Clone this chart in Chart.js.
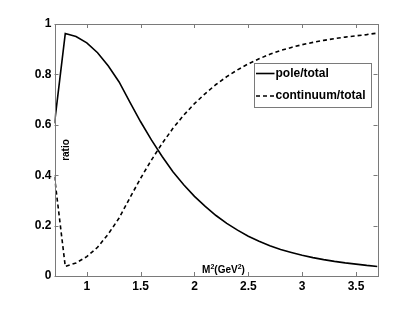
<!DOCTYPE html>
<html>
<head>
<meta charset="utf-8">
<script src="https://cdn.jsdelivr.net/npm/chart.js@4/dist/chart.umd.min.js"></script>
<style>
html,body{margin:0;padding:0;background:#fff;}
#wrap{width:417px;height:316px;position:relative;}
</style>
</head>
<body>
<div id="wrap"><canvas id="c" width="417" height="316"></canvas></div>
<script>
// ---- data ----
const massSq = [0.7,0.8,0.9,1.0,1.1,1.2,1.3,1.4,1.5,1.6,1.7,1.8,1.9,2.0,2.1,2.2,2.3,2.4,2.5,2.6,2.7,2.8,2.9,3.0,3.1,3.2,3.3,3.4,3.5,3.6,3.7];
const poleRatio = [0.606,0.962,0.950,0.925,0.886,0.833,0.770,0.690,0.612,0.540,0.474,0.414,0.362,0.316,0.276,0.240,0.209,0.182,0.158,0.138,0.120,0.105,0.093,0.082,0.073,0.065,0.058,0.052,0.047,0.042,0.038];
const continuumRatio = [0.394,0.038,0.052,0.077,0.114,0.167,0.230,0.310,0.388,0.460,0.526,0.586,0.638,0.684,0.724,0.760,0.791,0.818,0.842,0.862,0.880,0.895,0.907,0.918,0.927,0.935,0.942,0.948,0.953,0.958,0.964];
const seriesLabels = ['pole/total','continuum/total'];
const xTicks = [1,1.5,2,2.5,3,3.5];
const xTickLabels = ['1','1.5','2','2.5','3','3.5'];
const yTicks = [0,0.2,0.4,0.6,0.8,1];
const yTickLabels = ['0','0.2','0.4','0.6','0.8','1'];
// x title as [text, isSuperscript] pieces: M^2(GeV^2)
const xTitleParts = [['M',false],['2',true],['(GeV',false],['2',true],[')',false]];
const yTitle = 'ratio';

const FONT = '"Liberation Sans", Arial, Helvetica, sans-serif';
const FRAME = '#7a7a7a';

const toPts = (ys) => massSq.map((x,i)=>({x:x,y:ys[i]}));

const decorPlugin = {
  id:'decor',
  afterDatasetsDraw(chart){
    const ctx = chart.ctx, a = chart.chartArea;
    const xs = chart.scales.x, ys = chart.scales.y;
    ctx.save();
    // frame
    ctx.strokeStyle = FRAME; ctx.lineWidth = 1;
    ctx.strokeRect(Math.round(a.left)+0.5, Math.round(a.top)+0.5, Math.round(a.right-a.left), Math.round(a.bottom-a.top));
    // inward ticks
    const tl = 4;
    ctx.beginPath();
    xTicks.forEach(v=>{
      const px = Math.round(xs.getPixelForValue(v))+0.5;
      ctx.moveTo(px, a.bottom); ctx.lineTo(px, a.bottom-tl);
      ctx.moveTo(px, a.top); ctx.lineTo(px, a.top+tl);
    });
    yTicks.forEach(v=>{
      const py = Math.round(ys.getPixelForValue(v))+0.5;
      ctx.moveTo(a.left, py); ctx.lineTo(a.left+tl, py);
      ctx.moveTo(a.right, py); ctx.lineTo(a.right-tl, py);
    });
    ctx.stroke();

    // x title inside plot, with superscripts
    ctx.fillStyle = '#000';
    ctx.textBaseline = 'alphabetic'; ctx.textAlign = 'left';
    const mainF = 'bold 10px ' + FONT, supF = 'bold 7px ' + FONT;
    let total = 0;
    xTitleParts.forEach(([t,s])=>{ ctx.font = s?supF:mainF; total += ctx.measureText(t).width; });
    let cx = xs.getPixelForValue(2.0) + 29 - total/2;
    const base = a.bottom - 3.5;
    xTitleParts.forEach(([t,s])=>{
      ctx.font = s?supF:mainF;
      ctx.fillText(t, cx, s ? base-4 : base);
      cx += ctx.measureText(t).width;
    });
    // y title
    ctx.font = mainF; ctx.textAlign = 'center'; ctx.textBaseline = 'middle';
    ctx.save();
    ctx.translate(a.left+12, ys.getPixelForValue(0.5));
    ctx.rotate(-Math.PI/2);
    ctx.fillText(yTitle, 0, 0);
    ctx.restore();

    // legend box
    const bx = 254.5, by = 63.5, bw = 117, bh = 44;
    ctx.fillStyle = '#fff';
    ctx.fillRect(bx, by, bw, bh);
    ctx.strokeStyle = FRAME; ctx.lineWidth = 1;
    ctx.strokeRect(bx, by, bw, bh);
    ctx.font = 'bold 12px ' + FONT;
    ctx.textAlign = 'left'; ctx.textBaseline = 'middle';
    chart.data.datasets.forEach((ds,i)=>{
      const yy = by + 10 + i*22.5;
      ctx.strokeStyle = ds.borderColor; ctx.lineWidth = ds.borderWidth;
      ctx.setLineDash(ds.borderDash || []);
      ctx.beginPath(); ctx.moveTo(bx+1.5, yy); ctx.lineTo(bx+20, yy); ctx.stroke();
      ctx.setLineDash([]);
      ctx.fillStyle = '#000';
      ctx.fillText(ds.label, bx+21, yy);
    });
    ctx.restore();
  }
};

new Chart(document.getElementById('c'), {
  type:'scatter',
  data:{
    datasets:[
      {label:seriesLabels[0], data:toPts(poleRatio), showLine:true, borderColor:'#000', borderWidth:1.6, pointRadius:0, tension:0, fill:false},
      {label:seriesLabels[1], data:toPts(continuumRatio), showLine:true, borderColor:'#000', borderWidth:1.6, borderDash:[4,3], pointRadius:0, tension:0, fill:false}
    ]
  },
  options:{
    responsive:false, animation:false, devicePixelRatio:1,
    layout:{padding:{left:0, top:24, right:39.5, bottom:0}},
    plugins:{legend:{display:false}, tooltip:{enabled:false}},
    scales:{
      x:{
        type:'linear', min:0.7, max:3.7,
        afterBuildTicks(s){ s.ticks = xTicks.map(v=>({value:v})); },
        afterFit(s){ s.height = 40; },
        grid:{display:false, drawTicks:false},
        border:{display:false},
        ticks:{color:'#000', font:{family:FONT, size:12, weight:'bold'}, padding:3,
          callback(v){ const i = xTicks.indexOf(v); return i>=0 ? xTickLabels[i] : ''; }, maxRotation:0, autoSkip:false}
      },
      y:{
        type:'linear', min:0, max:1,
        afterBuildTicks(s){ s.ticks = yTicks.map(v=>({value:v})); },
        afterFit(s){ s.width = 54.5; },
        grid:{display:false, drawTicks:false},
        border:{display:false},
        ticks:{color:'#000', font:{family:FONT, size:12, weight:'bold'}, padding:3,
          callback(v){ const i = yTicks.findIndex(t=>Math.abs(t-v)<1e-9); return i>=0 ? yTickLabels[i] : ''; }, autoSkip:false}
      }
    }
  },
  plugins:[decorPlugin]
});
</script>
</body>
</html>
